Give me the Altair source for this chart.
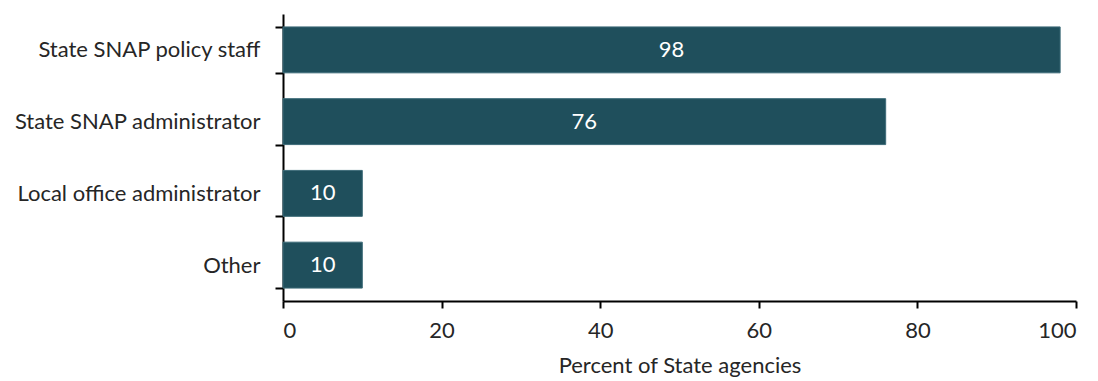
import altair as alt
import pandas as pd

categories = ["State SNAP policy staff", "State SNAP administrator", "Local office administrator", "Other"]
values = [98, 76, 10, 10]

df = pd.DataFrame({"cat": categories, "val": values})
df["mid"] = df["val"] / 2

FONT = "Lato"
BAR = "#1f4f5c"
FS = 22

y = alt.Y("cat:N", sort=categories, title=None,
          scale=alt.Scale(paddingInner=0.36, paddingOuter=0.18),
          axis=alt.Axis(tickBand="extent", domainColor="black", tickColor="black",
                        domainWidth=2, tickWidth=2, tickSize=8, labelPadding=15,
                        labelFontSize=FS, labelFont=FONT, labelColor="#262626",
                        labelLimit=0))

bars = alt.Chart(df).mark_bar(color=BAR, stroke="#3d6b78", strokeWidth=1).encode(
    x=alt.X("val:Q", scale=alt.Scale(domain=[0, 100]),
            title="Percent of State agencies",
            axis=alt.Axis(values=[0, 20, 40, 60, 80, 100], grid=False,
                          domainColor="black", tickColor="black", domainWidth=2,
                          tickWidth=2, tickSize=7, labelPadding=12, labelFontSize=FS,
                          labelFont=FONT, labelColor="#262626", titleFont=FONT,
                          titleFontSize=FS, titleFontWeight="normal",
                          titleColor="#262626", titlePadding=14)),
    y=y,
)

text = alt.Chart(df).mark_text(color="white", font=FONT, fontSize=FS, baseline="middle").encode(
    x=alt.X("mid:Q"),
    y=alt.Y("cat:N", sort=categories),
    text=alt.Text("val:Q"),
)

chart = (bars + text).properties(
    width=793, height=287,
    autosize=alt.AutoSizeParams(type="none"),
    padding={"left": 283, "top": 14, "right": 22, "bottom": 80},
).configure(background="white").configure_view(stroke=None)

chart.save("out.html", embed_options={"renderer": "svg", "actions": False})
